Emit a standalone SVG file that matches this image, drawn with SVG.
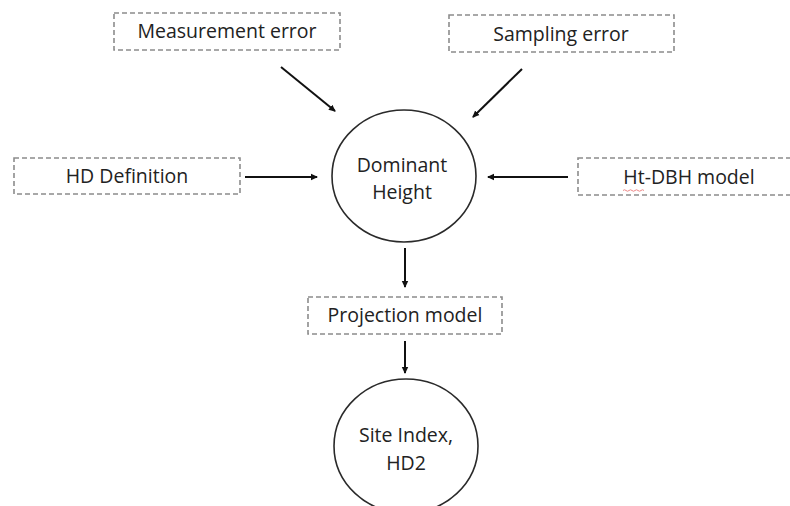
<svg xmlns="http://www.w3.org/2000/svg" width="790" height="506" viewBox="0 0 790 506">
<style>
.box{fill:#fff;stroke:#8c8c8c;stroke-width:1.6;stroke-dasharray:5 3}
.circ{fill:#fff;stroke:#2a2a2a;stroke-width:1.6}
.lbl{font-family:"Open Sans","Liberation Sans",sans-serif;font-size:19.5px;fill:#222;text-anchor:middle}
.conn{stroke:#111;stroke-width:2;fill:none;marker-end:url(#ah)}
</style>
<defs>
<marker id="ah" markerWidth="8" markerHeight="8" refX="6" refY="4" orient="auto" markerUnits="userSpaceOnUse">
<path d="M0,0.8 L7,4 L0,7.2 Z" fill="#111"/>
</marker>
</defs>
<rect width="790" height="506" fill="#fff"/>
<g id="measurement-error">
<rect class="box" x="114" y="13" width="226" height="37"/>
<text class="lbl" x="227" y="38">Measurement error</text>
</g>
<g id="sampling-error">
<rect class="box" x="449" y="15" width="225" height="37"/>
<text class="lbl" x="561" y="41">Sampling error</text>
</g>
<g id="hd-definition">
<rect class="box" x="14" y="158" width="226" height="36"/>
<text class="lbl" x="127" y="183">HD Definition</text>
</g>
<g id="ht-dbh-model">
<rect class="box" x="578" y="158" width="224" height="37"/>
<text class="lbl" x="689" y="184">Ht-DBH model</text>
<path d="M623,190.5 q1.5,-1.5 3,0 t3,0 t3,0 t3,0 t3,0 t3,0 t3,0" fill="none" stroke="#e88" stroke-width="1"/>
</g>
<g id="dominant-height">
<ellipse class="circ" cx="404" cy="176" rx="72" ry="66"/>
<text class="lbl" x="402" y="172">Dominant</text>
<text class="lbl" x="402" y="199">Height</text>
</g>
<g id="projection-model">
<rect class="box" x="308" y="297" width="194" height="37"/>
<text class="lbl" x="405" y="322">Projection model</text>
</g>
<g id="site-index">
<ellipse class="circ" cx="406" cy="446" rx="72" ry="67"/>
<text class="lbl" x="406" y="442">Site Index,</text>
<text class="lbl" x="406" y="470">HD2</text>
</g>
<g id="connectors">
<line class="conn" x1="281" y1="67" x2="335" y2="111"/>
<line class="conn" x1="522" y1="69" x2="473" y2="117"/>
<line class="conn" x1="245" y1="177" x2="317" y2="177"/>
<line class="conn" x1="568" y1="177" x2="488" y2="177"/>
<line class="conn" x1="405" y1="248" x2="405" y2="287"/>
<line class="conn" x1="405" y1="341" x2="405" y2="373"/>
</g>
</svg>
